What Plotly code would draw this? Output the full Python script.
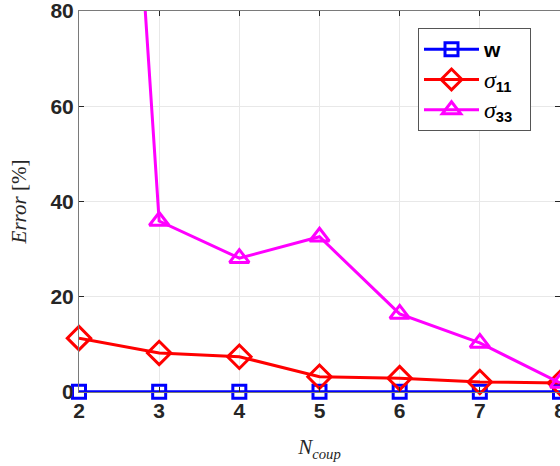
import plotly.graph_objects as go

n_coup = [2, 3, 4, 5, 6, 7, 8]
err_w = [0.05, 0.05, 0.05, 0.05, 0.05, 0.05, 0.05]
err_s11 = [11.3, 8.2, 7.4, 3.2, 2.9, 2.1, 1.9]
err_s33 = [290, 35.9, 28.1, 32.6, 16.4, 10.3, 1.9]
y_ticks = [0, 20, 40, 60, 80]

W, H = 560, 466
L, T, R, B = 79, 11, 0, 74

fig = go.Figure()
series = [
    ("<b>w</b>    ", err_w, "#0000ff", "square-open", 13),
    ("<span style='font-family:Liberation Serif;font-size:24px'><i>σ</i></span><sub><b>11</b></sub>", err_s11, "#ff0000", "diamond-open", 18),
    ("<span style='font-family:Liberation Serif;font-size:24px'><i>σ</i></span><sub><b>33</b></sub>", err_s33, "#ff00ff", "triangle-up-open", 17),
]
for name, ys, col, sym, sz in series:
    fig.add_trace(go.Scatter(
        x=n_coup, y=ys, name=name, mode="lines+markers",
        line=dict(color=col, width=3),
        marker=dict(symbol=sym, size=sz, color=col, line=dict(color=col, width=3)),
        cliponaxis=False,
    ))

axis_common = dict(
    showgrid=True, gridcolor="#e8e8e8", gridwidth=1,
    showline=True, linecolor="#7a7a7a", linewidth=1, mirror="ticks",
    ticks="inside", ticklen=5, tickcolor="#262626",
    tickfont=dict(family="Liberation Sans", size=21, color="#262626"),
    ticklabeloverflow="allow",
    zeroline=False,
)
fig.update_xaxes(range=[2, 8], tickvals=n_coup, ticktext=[f"<b>{v}</b>" for v in n_coup],
                 title=dict(text="<i>N</i><sub><i>coup</i></sub>",
                            font=dict(family="Liberation Serif", size=21, color="#262626"),
                            standoff=18),
                 **axis_common)
fig.update_yaxes(range=[0, 80], tickvals=y_ticks, ticktext=[f"<b>{v}</b>" for v in y_ticks],
                 title=dict(text="<i>Error</i> [%]",
                            font=dict(family="Liberation Serif", size=21, color="#262626"),
                            standoff=18),
                 **axis_common)

fig.update_layout(
    width=W, height=H, autosize=False,
    margin=dict(l=L, r=R, t=T, b=B, autoexpand=False),
    paper_bgcolor="white", plot_bgcolor="white",
    showlegend=True,
    legend=dict(xref="container", yref="container", x=418 / W, y=1 - 28 / H,
                xanchor="left", yanchor="top",
                bgcolor="white", bordercolor="#555555", borderwidth=1,
                font=dict(family="Liberation Sans", size=21, color="black"),
                itemwidth=55, tracegroupgap=0),
)

fig.write_html("out.html")
